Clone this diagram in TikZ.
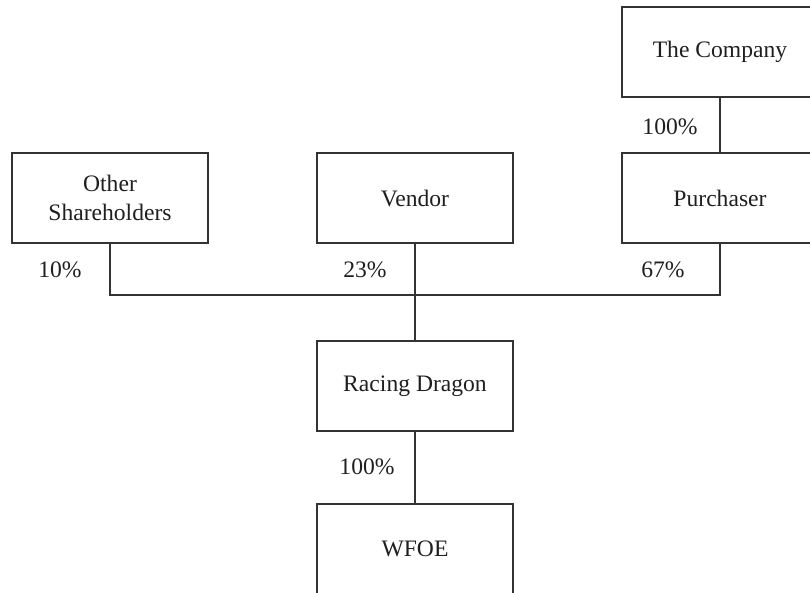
\documentclass[tikz,border=0pt]{standalone}
\usepackage{fontspec}
\setmainfont{Liberation Serif}
\begin{document}
\begin{tikzpicture}[x=1pt,y=-1pt,
  every node/.style={font=\fontsize{23.6}{28.5}\selectfont, text=black!88},
  box/.style={draw=black!80, line width=1.3pt, minimum width=196pt, minimum height=90pt, inner sep=0pt, outer sep=0pt, align=center},
  pct/.style={inner sep=0pt},
  link/.style={draw=black!80, line width=1.3pt}]
\path[use as bounding box, clip] (0,0) rectangle (810,592);
\node[box] (co) at (720,52) {\raisebox{-3pt}{The Company}};
\node[box] (ps) at (720,198) {Purchaser};
\node[box] (os) at (110,198) {\raisebox{-1pt}{Other}\\\raisebox{-1pt}{Shareholders}};
\node[box] (vd) at (415,198) {Vendor};
\node[box] (rd) at (415,386) {\raisebox{-3pt}{Racing Dragon}};
\node[box] (wf) at (415,549) {WFOE};
\coordinate (bus) at (415,295);
\draw[link] (co.south) -- (ps.north);
\draw[link] (os.south) -- (os.south |- bus) -- (ps.south |- bus) -- (ps.south);
\draw[link] (vd.south) -- (rd.north);
\draw[link] (rd.south) -- (wf.north);
\node[pct] (p1) at (670,127) {100\%};
\node[pct] (p2) at (60,270) {10\%};
\node[pct] (p3) at (365,270) {23\%};
\node[pct] (p4) at (663,270) {67\%};
\node[pct] (p5) at (367,467) {100\%};
\end{tikzpicture}
\end{document}
